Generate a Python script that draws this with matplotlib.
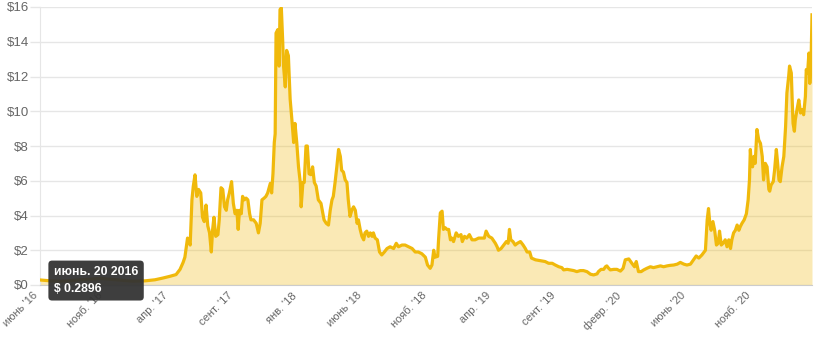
import matplotlib
matplotlib.use("Agg")
import matplotlib.pyplot as plt
import pandas as pd

plt.rcParams['font.family'] = ['Liberation Sans', 'DejaVu Sans']

# данные: дни от первой точки и цена в $
start_date = pd.Timestamp('2016-06-20')
days = [0, 23, 45, 68, 91, 114, 136, 159, 182, 211, 239, 261, 279, 295, 309, 318, 325, 329,
        335, 341, 345, 348, 352, 356, 360, 365, 369, 373, 377, 381, 385, 389, 392, 395, 399,
        404, 407, 411, 415, 419, 423, 426, 430, 435, 439, 443, 447, 450, 453, 457, 460, 464,
        468, 472, 476, 479, 485, 491, 496, 500, 504, 509, 513, 517, 523, 526, 529, 532, 534,
        536, 540, 543, 545, 548, 551, 553, 557, 560, 564, 568, 572, 576, 579, 583, 587, 591,
        593, 597, 600, 604, 607, 611, 615, 619, 623, 627, 632, 638, 641, 645, 650, 655, 659,
        663, 666, 670, 674, 678, 682, 685, 689, 693, 697, 700, 704, 708, 712, 716, 720, 723,
        727, 731, 735, 738, 742, 746, 750, 754, 757, 761, 766, 771, 776, 782, 788, 795, 803,
        809, 814, 822, 829, 837, 845, 852, 859, 867, 875, 880, 886, 890, 894, 897, 903, 905,
        909, 913, 916, 920, 924, 928, 932, 935, 939, 945, 950, 956, 959, 964, 969, 975, 981,
        988, 996, 1004, 1009, 1013, 1019, 1026, 1034, 1038, 1041, 1047, 1053, 1059, 1063,
        1066, 1069, 1074, 1079, 1084, 1091, 1097, 1102, 1106, 1112, 1116, 1125, 1136, 1147,
        1155, 1163, 1170, 1178, 1185, 1189, 1197, 1204, 1212, 1219, 1227, 1234, 1242, 1250,
        1257, 1265, 1268, 1274, 1280, 1284, 1287, 1291, 1295, 1303, 1310, 1318, 1324, 1329,
        1337, 1344, 1350, 1354, 1359, 1365, 1371, 1378, 1386, 1393, 1401, 1409, 1416, 1424,
        1431, 1439, 1447, 1454, 1462, 1469, 1477, 1484, 1490, 1496, 1503, 1511, 1515, 1518,
        1521, 1524, 1528, 1532, 1536, 1540, 1543, 1547, 1551, 1556, 1560, 1564, 1568, 1571,
        1575, 1579, 1583, 1587, 1590, 1594, 1599, 1604, 1608, 1611, 1613, 1615, 1618, 1621,
        1624, 1628, 1632, 1636, 1640, 1643, 1647, 1651, 1655, 1657, 1660, 1665, 1668, 1672,
        1675, 1678, 1681, 1685, 1689, 1693, 1696, 1700, 1702, 1706, 1708, 1710, 1713, 1715,
        1719, 1723, 1727, 1731, 1734, 1738, 1740, 1743, 1746, 1748, 1751, 1753]
prices = [0.2896, 0.24, 0.22, 0.25, 0.3, 0.33, 0.38, 0.33, 0.28, 0.22, 0.24, 0.3, 0.4, 0.5,
          0.6, 0.9, 1.3, 1.6,
          2.7, 2.3, 4.9, 5.67, 6.34, 5.1, 5.5, 5.3, 3.9, 3.65, 4.6, 3.4, 3.0, 1.9, 3.2, 3.9, 2.8,
          2.9, 3.75, 5.6, 5.5, 4.5, 4.3, 4.9, 5.3, 5.95, 4.7, 4.1, 4.3, 3.2, 4.3, 4.1, 5.1, 4.9,
          5.0, 4.9, 4.1, 3.75, 3.75, 3.55, 3.0, 3.55, 4.9, 5.0, 5.1, 5.3, 5.85, 5.3, 6.4, 8.2, 8.7,
          14.5, 14.7, 12.6, 15.85, 15.95, 14.1, 12.6, 11.4, 13.5, 13.2, 10.7, 9.5, 8.2, 9.3, 8.2,
          6.8, 5.9, 4.5, 5.9, 5.9, 8.0, 8.0, 6.4, 6.35, 6.8, 5.9, 5.7, 4.9, 4.7, 4.3, 3.75, 3.55,
          3.45, 4.3, 4.9, 5.1, 5.9, 6.8, 7.8, 7.4, 6.6, 6.5, 6.05, 5.9, 4.9, 3.95, 4.3, 4.5, 4.3,
          3.55, 3.75, 3.2, 2.8, 2.6, 3.0, 3.1, 2.8, 3.0, 2.8, 3.0, 2.7, 2.6, 1.9, 1.73, 1.9, 2.1,
          2.2, 2.1, 2.4, 2.2, 2.3, 2.3, 2.2, 2.1, 1.9, 1.9, 1.8, 1.6, 1.15, 0.96, 1.15, 2.0, 1.6,
          1.65, 2.6, 4.15, 4.25, 3.2, 3.3, 3.2, 3.2, 2.6, 2.7, 2.5, 3.0, 2.8, 2.9, 2.5, 2.8, 2.7,
          2.9, 2.6, 2.6, 2.7, 2.7, 2.7, 3.1, 2.8, 2.7, 2.4, 2.2, 2.0, 2.1, 2.3, 2.5, 2.4, 3.2,
          2.6, 2.5, 2.3, 2.4, 2.5, 2.3, 2.1, 1.9, 1.9, 1.55, 1.45, 1.4, 1.35, 1.25, 1.25, 1.15,
          1.05, 1.0, 0.87, 0.9, 0.87, 0.83, 0.77, 0.83, 0.83, 0.77, 0.62, 0.58, 0.64, 0.77, 0.9,
          0.9, 1.05, 1.1, 0.97, 0.87, 0.9, 0.9, 0.8, 0.96, 1.45, 1.5, 1.25, 1.05, 1.35, 0.77,
          0.77, 0.87, 0.96, 1.05, 1.0, 1.05, 1.1, 1.05, 1.1, 1.13, 1.15, 1.2, 1.3, 1.2, 1.15,
          1.2, 1.45, 1.67, 1.55, 1.73, 2.0, 3.75, 4.4, 3.55, 3.15, 3.65, 3.15, 2.3, 2.4, 3.1,
          2.3, 2.4, 2.6, 2.2, 2.6, 2.1, 2.6, 3.0, 3.15, 3.45, 3.15, 3.35, 3.55, 3.75, 4.1, 4.9,
          6.05, 7.8, 7.0, 6.8, 7.4, 7.0, 8.95, 8.35, 8.15, 7.4, 6.05, 7.0, 6.8, 5.5, 5.4, 5.75,
          5.95, 6.6, 7.8, 7.0, 6.05, 5.95, 6.8, 7.4, 9.1, 11.05, 12.0, 12.6, 12.2, 10.65, 9.3,
          8.85, 9.5, 10.1, 10.65, 9.9, 10.1, 9.8, 10.85, 12.4, 12.2, 13.35, 11.6, 13.0, 15.55]

tick_step_days = 147
tick_labels = ["июнь '16", "нояб. '16", "апр. '17", "сент. '17", "янв. '18", "июнь '18",
               "нояб. '18", "апр. '19", "сент. '19", "февр. '20", "июнь '20", "нояб. '20"]
y_ticks = [0, 2, 4, 6, 8, 10, 12, 14, 16]
tip_title = 'июнь. 20 2016'

gold = '#f0b90b'
grid_color = '#e6e6e6'
label_color = '#666666'

dates = start_date + pd.to_timedelta(days, unit='D')

fig = plt.figure(figsize=(8.2, 3.4), dpi=100)
ax = fig.add_axes([40 / 820, 1 - 285 / 340, (812 - 40) / 820, (285 - 7) / 340])

ax.fill_between(dates, prices, 0, color=gold, alpha=0.3, lw=0, zorder=2)
ax.plot(dates, prices, color=gold, lw=2.3, solid_joinstyle='round', zorder=3)

ax.set_xlim(dates[0], dates[-1])
ax.set_ylim(0, 16)

# сетка по оси Y
ax.set_yticks(y_ticks)
ax.set_yticklabels(['${}'.format(v) for v in y_ticks])
ax.yaxis.grid(True, color=grid_color, lw=1, zorder=1)
ax.tick_params(axis='y', length=7, width=1, color=grid_color, labelcolor=label_color,
               labelsize=9.5, pad=1)

tick_dates = [start_date + pd.Timedelta(days=k * tick_step_days) for k in range(len(tick_labels))]
ax.set_xticks(tick_dates)
ax.set_xticklabels(tick_labels, rotation=45, ha='right')
ax.tick_params(axis='x', length=0, labelcolor=label_color, labelsize=8, pad=4)

for s in ['top', 'right']:
    ax.spines[s].set_visible(False)
ax.spines['left'].set_color(grid_color)
ax.spines['bottom'].set_color('#cccccc')
ax.set_axisbelow(True)

# подсказка для первой точки
tip = '{}\n$ {}'.format(tip_title, prices[0])
ax.annotate(tip, xy=(dates[0], prices[0]), xytext=(10, 10), textcoords='offset points',
            ha='left', va='top', color='white', fontsize=8.8, fontweight='bold',
            linespacing=1.55, annotation_clip=False, zorder=10,
            bbox=dict(boxstyle='round,pad=0.45,rounding_size=0.3', fc='#333333', ec='none',
                      alpha=0.95))

fig.savefig('out.png', dpi=100)
